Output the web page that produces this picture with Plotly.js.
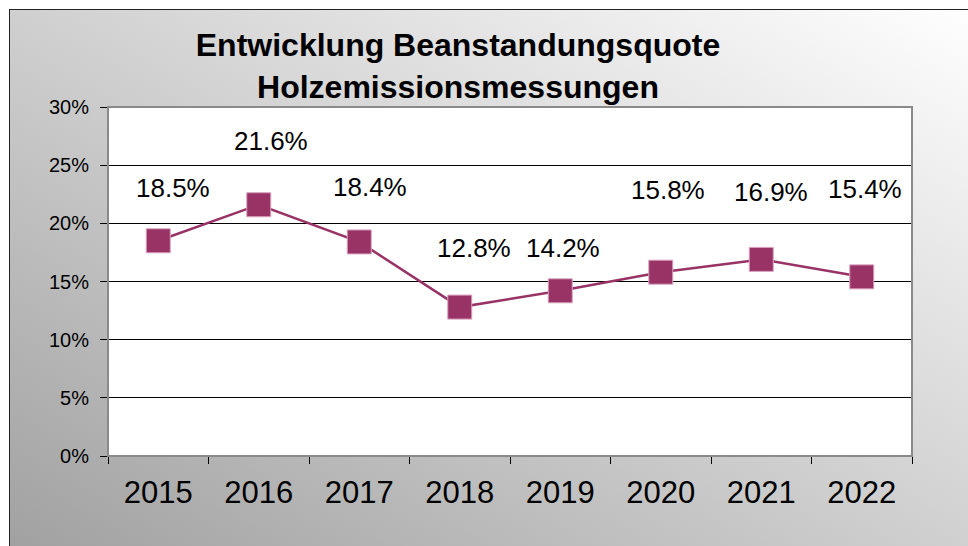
<!DOCTYPE html>
<html>
<head>
<meta charset="utf-8">
<script src="https://cdn.plot.ly/plotly-3.0.1.min.js"></script>
<style>
  html, body { margin: 0; padding: 0; background: #ffffff; }
  #wrap { position: relative; width: 968px; height: 546px; overflow: hidden; background: #ffffff; }
  #bg { position: absolute; left: 9px; top: 9px; width: 970px; height: 550px;
        border-left: 1px solid #222; border-top: 1px solid #222;
        background: linear-gradient(to bottom left, #ffffff 0%, #a0a0a0 100%); }
  #chart { position: absolute; left: 0; top: 0; width: 968px; height: 546px; }
</style>
</head>
<body>
<div id="wrap">
  <div id="bg"></div>
  <div id="chart"></div>
</div>
<script>
// ---- data ----
const years = ['2015', '2016', '2017', '2018', '2019', '2020', '2021', '2022'];
const quote = [18.5, 21.6, 18.4, 12.8, 14.2, 15.8, 16.9, 15.4];
const yTicks = [0, 5, 10, 15, 20, 25, 30];
// label placement offsets (pixels, style only)
const labelDx = [15, 12, 11, 14, 3, 7, 10, 3];
const labelDy = [53, 64, 55, 59, 43, 82, 67, 88];

const FONT = 'Liberation Sans, Arial, sans-serif';
const lineColor = '#993366';

const trace = {
  x: years,
  y: quote,
  type: 'scatter',
  mode: 'lines+markers',
  line: { color: lineColor, width: 2.5 },
  marker: { symbol: 'square', size: 24, color: lineColor, line: { color: '#d9a3bf', width: 1 } },
  hoverinfo: 'skip',
  cliponaxis: false
};

const annotations = quote.map((v, i) => ({
  x: i, y: v, xref: 'x', yref: 'y',
  text: v.toFixed(1) + '%',
  showarrow: false,
  xshift: labelDx[i], yshift: labelDy[i],
  xanchor: 'center', yanchor: 'middle',
  font: { family: FONT, size: 26, color: '#000000' }
}));

const layout = {
  width: 968, height: 546,
  margin: { l: 108, r: 56, t: 107, b: 90, pad: 0 },
  paper_bgcolor: 'rgba(0,0,0,0)',
  plot_bgcolor: '#ffffff',
  showlegend: false,
  title: {
    text: 'Entwicklung Beanstandungsquote<br>Holzemissionsmessungen',
    font: { family: FONT, size: 32, color: '#000', weight: 'bold' },
    xref: 'container', yref: 'container',
    x: 458 / 968, xanchor: 'center',
    y: 1 - 56 / 546, yanchor: 'middle'
  },
  xaxis: {
    type: 'category',
    range: [-0.5, years.length - 0.5],
    tickson: 'boundaries',
    ticks: 'outside', ticklen: 7, tickwidth: 1, tickcolor: '#000',
    ticklabelstandoff: 9,
    showline: true, linecolor: '#333', linewidth: 1,
    showgrid: false, zeroline: false,
    tickfont: { family: FONT, size: 31, color: '#000' },
    fixedrange: true
  },
  yaxis: {
    range: [0, 30],
    tickvals: yTicks,
    ticktext: yTicks.map(v => v + '%'),
    ticks: 'outside', ticklen: 7, tickwidth: 1, tickcolor: '#000',
    ticklabelstandoff: 7,
    showline: true, linecolor: '#000', linewidth: 1,
    showgrid: true, gridcolor: '#000', gridwidth: 1,
    zeroline: false,
    tickfont: { family: FONT, size: 20, color: '#000' },
    fixedrange: true
  },
  shapes: [{
    type: 'rect', xref: 'paper', yref: 'paper', x0: 0, x1: 1, y0: 0, y1: 1,
    line: { color: '#8a8a8a', width: 2 }, layer: 'above'
  }],
  annotations: annotations
};

Plotly.newPlot('chart', [trace], layout, { displayModeBar: false, staticPlot: true });
</script>
</body>
</html>
